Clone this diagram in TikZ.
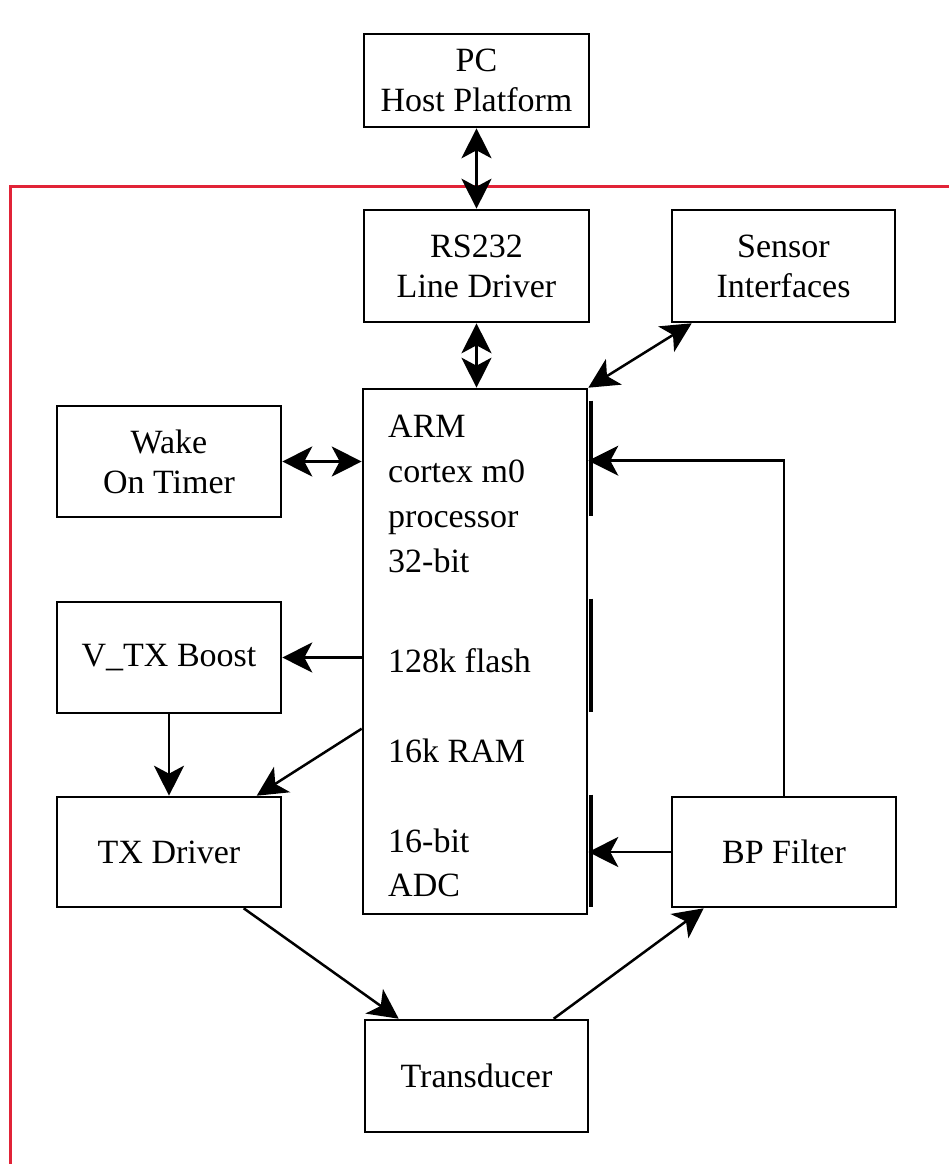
\documentclass[tikz,border=0pt]{standalone}
\usepackage{fontspec}
\setmainfont{Liberation Serif}
\usetikzlibrary{arrows.meta,calc}
\definecolor{framered}{RGB}{225,35,55}
\begin{document}
\begin{tikzpicture}[x=1pt,y=-1pt,
  blk/.style={draw=black,line width=2.6pt,fill=white,inner sep=0pt,align=center,
    font=\fontsize{34}{40}\selectfont},
  armtxt/.style={anchor=base west,inner sep=0pt,font=\fontsize{34}{40}\selectfont},
  tip/.tip={Stealth[length=30pt,width=30pt,inset=8pt]},
  conn/.style={line width=2.5pt,-tip},
  bconn/.style={line width=2.5pt,tip-tip},
  portbar/.style={line width=4pt,line cap=butt}]
\useasboundingbox (0,0) rectangle (949,1164);
\fill[white] (0,0) rectangle (949,1164);
% red frame (extends past the picture edge)
\draw[framered,line width=3pt] (10,1200) -- (10,186) -- (990,186);

% blocks
\node[blk,minimum width=225pt,minimum height=93pt]  (pc)  at (476.5,80.5) {PC\\Host Platform};
\node[blk,minimum width=225pt,minimum height=112pt] (rs)  at (476.5,266) {RS232\\Line Driver};
\node[blk,minimum width=223pt,minimum height=112pt] (sen) at (783.5,266) {Sensor\\Interfaces};
\node[blk,minimum width=224pt,minimum height=525pt] (arm) at (475,651.5) {};
\node[blk,minimum width=224pt,minimum height=111pt] (wake) at (169,461.5) {Wake\\On Timer};
\node[blk,minimum width=224pt,minimum height=111pt] (vtx) at (169,657.5) {V\_TX Boost};
\node[blk,minimum width=224pt,minimum height=110pt] (tx)  at (169,852) {TX Driver};
\node[blk,minimum width=224pt,minimum height=110pt] (bp)  at (784,852) {BP Filter};
\node[blk,minimum width=223pt,minimum height=112pt] (tr)  at (476.5,1076) {Transducer};

% ARM text lines
\node[armtxt] (a1) at (388,437) {ARM};
\node[armtxt] (a2) at (388,482) {cortex m0};
\node[armtxt] (a3) at (388,527) {processor};
\node[armtxt] (a4) at (388,572) {32-bit};
\node[armtxt] (a5) at (388,672) {128k flash};
\node[armtxt] (a6) at (388,762) {16k RAM};
\node[armtxt] (a7) at (388,852) {16-bit};
\node[armtxt] (a8) at (388,896) {ADC};

% port bars on the right edge of the processor
\draw[portbar] ($(arm.north east)+(2.5,13)$) -- ($(arm.north east)+(2.5,128)$);
\draw[portbar] ($(arm.north east)+(2.5,211)$) -- ($(arm.north east)+(2.5,324)$);
\draw[portbar] ($(arm.north east)+(2.5,407)$) -- ($(arm.north east)+(2.5,519)$);

% connectors
\draw[bconn] (pc.south) -- (rs.north);
\draw[bconn] (rs.south) -- (rs.south |- arm.north);
\draw[bconn] (arm.north east) -- ($(sen.south west)+(21,0)$);
\draw[bconn] (wake.east) -- (wake.east -| arm.west);
\draw[conn] (vtx.east -| arm.west) -- (vtx.east);
\draw[conn] (vtx.south) -- (tx.north);
\draw[conn] ($(arm.north west)+(0,341)$) -- ($(tx.north west)+(201,0)$);
\draw[conn] (bp.west) -- (bp.west -| arm.east);
\coordinate (bpin) at ($(arm.north east)+(0,73)$);
\draw[conn] (bp.north) |- (bpin);
\draw[conn] ($(tx.south west)+(188,0)$) -- ($(tr.north west)+(35,0)$);
\draw[conn] ($(tr.north west)+(190,0)$) -- ($(bp.south west)+(33,0)$);
\end{tikzpicture}
\end{document}
